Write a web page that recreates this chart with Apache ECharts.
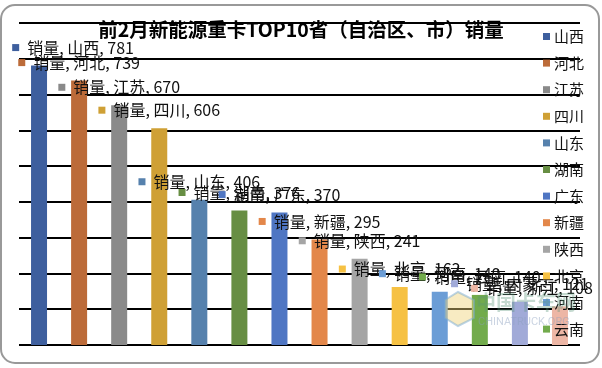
<!DOCTYPE html>
<html>
<head>
<meta charset="utf-8">
<script src="https://cdn.jsdelivr.net/npm/echarts@6/dist/echarts.min.js"></script>
<style>
html,body{margin:0;padding:0;background:#fff;}
#c{width:602px;height:368px;}
</style>
</head>
<body>
<div id="c"></div>
<script>
// ---- data ----
const titleText = '前2月新能源重卡TOP10省（自治区、市）销量';
const seriesLabel = '销量';
const categories = ['山西','河北','江苏','四川','山东','湖南','广东','新疆','陕西','北京','河南','云南','内蒙古','浙江'];
const values = [781, 739, 670, 606, 406, 376, 370, 295, 241, 162, 149, 140, 121, 108];
const legendNames = ['山西','河北','江苏','四川','山东','湖南','广东','新疆','陕西','北京','河南','云南'];

// ---- styles ----
const colors = ['#3E5F9E','#BC6B39','#8A8A8A','#CFA035','#5681AD','#678E43','#4F76C3',
                '#E3874A','#A5A5A5','#F6C143','#6B9DD6','#72AB4C','#A1AAD8','#EDB6A5'];
const labelShift = {'山西': [34, 0], '浙江': [-28, 0]};

const chart = echarts.init(document.getElementById('c'), null, {renderer: 'canvas'});

const series = categories.map((name, i) => ({
  name: name,
  type: 'bar',
  stack: 'all',
  barWidth: 16,
  itemStyle: {color: colors[i]},
  data: categories.map((c, j) => j === i ? values[j] : '-'),
  label: {
    show: true,
    position: 'top',
    distance: 10,
    offset: labelShift[name] || [0, 0],
    formatter: p => '{m|}{t|' + seriesLabel + ', ' + p.name + ', ' + p.value + '}',
    rich: {
      m: {width: 7, height: 7, backgroundColor: colors[i]},
      t: {fontSize: 16, color: '#111', fontFamily: '"Noto Sans CJK SC", "Noto Sans", sans-serif', padding: [0, 0, 0, 8]}
    }
  }
}));

chart.setOption({
  animation: false,
  backgroundColor: '#fff',
  title: {
    text: titleText,
    left: 'center',
    top: 20,
    padding: 0,
    textStyle: {fontSize: 19.5, fontWeight: 'bold', color: '#000',
      fontFamily: '"Noto Sans CJK SC", sans-serif'}
  },
  legend: {
    orient: 'vertical',
    left: 538,
    top: 24,
    height: 600,
    itemWidth: 7,
    itemHeight: 7,
    itemGap: 11.6,
    icon: 'rect',
    data: legendNames,
    textStyle: {fontSize: 15, color: '#111', fontFamily: '"Noto Sans CJK SC", sans-serif', padding: [0,0,0,-1]}
  },
  grid: {left: 19, right: 22, top: 23, bottom: 23, containLabel: false},
  xAxis: {
    type: 'category',
    data: categories,
    axisLine: {show: false},
    axisTick: {show: false},
    axisLabel: {show: false}
  },
  yAxis: {
    type: 'value',
    min: 0, max: 900, interval: 100,
    axisLabel: {show: false},
    axisLine: {show: false},
    axisTick: {show: false},
    splitLine: {lineStyle: {color: '#000', width: 2.2}}
  },
  graphic: [
    {type: 'rect', shape: {x: 1, y: 5, width: 598, height: 358, r: 14},
     style: {fill: 'none', stroke: '#999', lineWidth: 2}, z: 100, silent: true},
    {type: 'text', left: 476, top: 292, style: {text: '中国卡车网', fontSize: 20, fontWeight: 'bold',
      fill: 'rgba(90,150,120,0.35)', fontFamily: '"Noto Sans CJK SC", sans-serif'}, z: 100, silent: true},
    {type: 'text', left: 478, top: 317, style: {text: 'CHINATRUCK.ORG', fontSize: 11,
      fill: 'rgba(140,160,190,0.45)', fontFamily: 'Roboto, sans-serif'}, z: 100, silent: true},
    {type: 'polygon', shape: {points: [[458,292],[474,300],[474,318],[458,326],[445,318],[445,300]]},
      style: {fill: 'rgba(240,210,120,0.45)', stroke: 'rgba(120,170,210,0.5)', lineWidth: 2}, z: 100, silent: true}
  ],
  series: series
});
</script>
</body>
</html>
